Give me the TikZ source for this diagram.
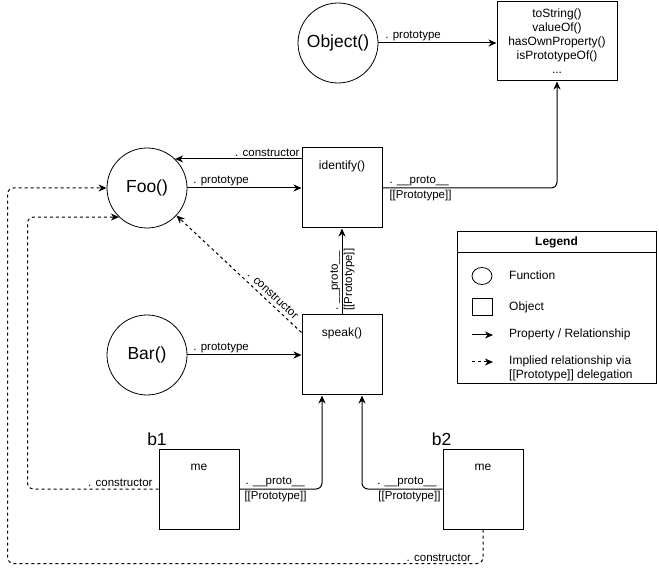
\documentclass[tikz,border=0pt]{standalone}
\usepackage{fontspec}
\setmainfont{Liberation Sans}
\usetikzlibrary{arrows.meta,calc,shapes.geometric}
\begin{document}
\begin{tikzpicture}[x=1pt,y=-1pt,
  fn/.style={draw, circle, minimum size=80pt, inner sep=0pt, line width=0.8pt, font=\fontsize{17.5pt}{20pt}\selectfont},
  objbox/.style={draw, rectangle, minimum width=80pt, minimum height=80pt, inner sep=0pt, line width=1pt},
  lbl/.style={font=\fontsize{11.5pt}{13pt}\selectfont, inner sep=1.5pt},
  legtxt/.style={font=\fontsize{12pt}{14pt}\selectfont, inner sep=1.5pt, anchor=west, align=left},
  boxtitle/.style={font=\fontsize{12pt}{14pt}\selectfont, inner sep=0pt, anchor=center},
  bigname/.style={font=\fontsize{17.5pt}{20pt}\selectfont, inner sep=0pt, anchor=south},
  arr/.style={line width=1pt, -{Stealth[length=8pt,width=7pt,inset=2.5pt]}},
  darr/.style={arr, dash pattern=on 3pt off 3pt},
]
\useasboundingbox (0,0) rectangle (659,577);

% nodes
\node[fn] (Object) at (338,43) {Object()};
\node[draw, line width=1pt, minimum width=120pt, minimum height=79pt, inner sep=0pt, align=center, font=\fontsize{12pt}{14pt}\selectfont] (protos) at (557,41.5) {toString()\\valueOf()\\hasOwnProperty()\\isPrototypeOf()\\...};
\node[fn] (Foo) at (147,188) {Foo()};
\node[objbox, label={[boxtitle, yshift=-19pt]north:identify()}] (identify) at (342,188) {};
\node[fn] (Bar) at (147,355) {Bar()};
\node[objbox, label={[boxtitle, yshift=-19pt]north:speak()}] (speak) at (342,355) {};
\node[objbox, label={[boxtitle, yshift=-19pt]north:me}, label={[bigname, xshift=-1.5pt, yshift=3pt]north west:b1}] (b1) at (199,489) {};
\node[objbox, label={[boxtitle, yshift=-19pt]north:me}, label={[bigname, xshift=-1pt, yshift=3pt]north west:b2}] (b2) at (483,489) {};

% connectors
\draw[arr] (Object.east) -- (Object.east -| protos.west) node[lbl, pos=0, above right, xshift=5pt] {. prototype};
\draw[arr] (identify.west |- Foo.46.5) -- (Foo.46.5) node[lbl, pos=0, above left] {. constructor};
\draw[arr] (Foo) -- (identify) node[lbl, pos=0, above right, xshift=4pt] {. prototype};
\draw[arr, rounded corners=6pt] (identify.east) node[lbl, above right, xshift=5pt] {. \_\_proto\_\_} node[lbl, below right, xshift=5pt] {[[Prototype]]} -- (identify.east -| protos.south) -- (protos.south);

\draw[arr] (speak) -- (identify);
\path ($(speak.north)+(0,-2)$) node[lbl, rotate=90, anchor=south west] {. \_\_proto\_\_} node[lbl, rotate=90, anchor=north west] {[[Prototype]]};

\draw[arr] (Bar) -- (speak) node[lbl, pos=0, above right, xshift=4pt] {. prototype};

\coordinate (spc) at ($(speak.north west)+(0,18)$);
\draw[darr] (spc) -- (Foo) node[lbl, pos=0.27, sloped, above=2pt] {. constructor};

\coordinate (spb1) at ($(speak.south)+(-20,0)$);
\coordinate (spb2) at ($(speak.south)+(20,0)$);
\draw[arr, rounded corners=6pt] (b1.east) node[lbl, above right, xshift=4pt] {. \_\_proto\_\_} node[lbl, below right, xshift=3pt] {[[Prototype]]} -- (b1.east -| spb1) -- (spb1);
\draw[arr, rounded corners=6pt] (b2.west) node[lbl, above left, xshift=-4pt] {. \_\_proto\_\_} node[lbl, below left] {[[Prototype]]} -- (b2.west -| spb2) -- (spb2);

\draw[darr, rounded corners=6pt] (b1.west) node[lbl, above left, xshift=-4pt] {. constructor} -- ++(-131,0) |- (Foo.226.5);
\draw[darr, rounded corners=6pt] (b2.south) -- ++(0,34) node[lbl, above left, xshift=-10pt] {. constructor} -| ($(Foo.west)+(-99,0)$) -- (Foo.west);

% legend
\node[draw, line width=1pt, minimum width=199pt, minimum height=152pt, inner sep=0pt] (legend) at (556.5,308) {};
\coordinate (lh) at (0,253);
\draw[line width=1pt] (legend.west |- lh) -- (legend.east |- lh);
\node[font=\bfseries\fontsize{12pt}{14pt}\selectfont, inner sep=0pt] (legtitle) at (556.5,242) {Legend};
\node[draw, ellipse, minimum width=20pt, minimum height=17pt, inner sep=0pt, line width=0.8pt] (legfn) at (482,276) {};
\node[legtxt] (legfnt) at (507.5,275) {Function};
\node[draw, minimum width=20pt, minimum height=17pt, inner sep=0pt, line width=1pt] (legobj) at (482,307.5) {};
\node[legtxt] (legobjt) at (507.5,307) {Object};
\coordinate (la1) at (472,335);
\coordinate (la2) at (493,335);
\draw[arr] (la1) -- (la2);
\node[legtxt] (legpt) at (507.5,334) {Property / Relationship};
\coordinate (lb1) at (472,362);
\coordinate (lb2) at (493,362);
\draw[darr] (lb1) -- (lb2);
\node[legtxt] (legit) at (507.5,368) {Implied relationship via\\{}[[Prototype]] delegation};
\end{tikzpicture}
\end{document}
